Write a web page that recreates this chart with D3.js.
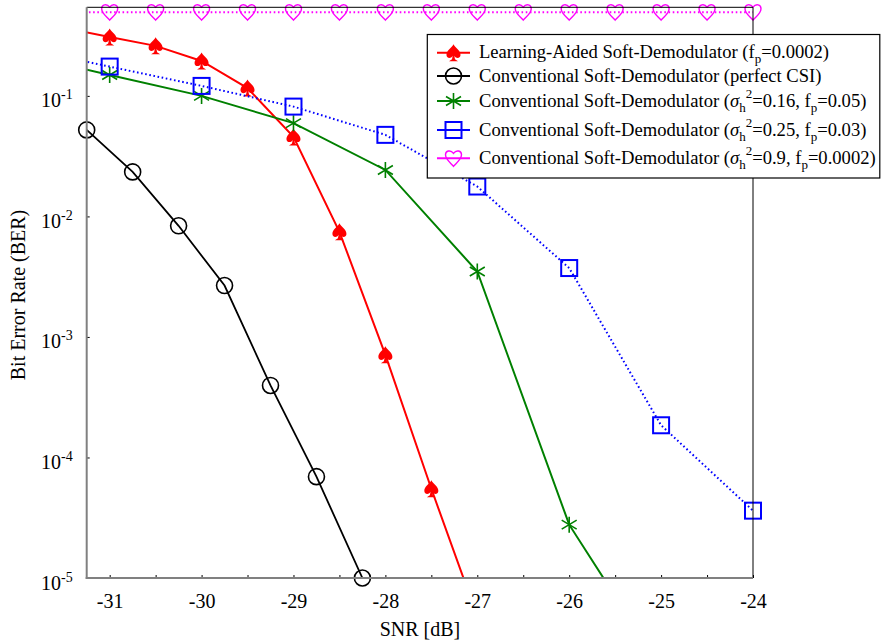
<!DOCTYPE html>
<html lang="en">
<head>
    <meta charset="UTF-8">
    <title>BER vs SNR</title>
    <script src="https://cdn.jsdelivr.net/npm/d3@7"></script>
    <style>
        body { margin: 0; background: #fff; }
        text { font-family: "Liberation Serif", "Times New Roman", serif; }
    </style>
</head>
<body>
<script>
    // values (SNR in dB, BER)
    const learnSnr = [-31.5, -31, -30.5, -30, -29.5, -29, -28.5, -28, -27.5, -27]
    const learnBer = [0.366, 0.308, 0.26, 0.195, 0.116, 0.0457, 0.00745, 7.1e-4, 5.5e-5, 4.8e-6]

    const perfectSnr = [-31.25, -30.75, -30.25, -29.75, -29.25, -28.75, -28.25]
    const perfectBer = [0.0522, 0.0234, 0.00836, 0.00267, 3.96e-4, 6.93e-5, 1.0e-5]

    const sig16Snr = [-32, -31, -30, -29, -28, -27, -26, -25]
    const sig16Ber = [0.223, 0.149, 0.1, 0.0594, 0.0243, 0.00349, 2.77e-5, 1.8e-6]

    const sig25Snr = [-32, -31, -30, -29, -28, -27, -26, -25, -24]
    const sig25Ber = [0.253, 0.175, 0.121, 0.0815, 0.0475, 0.0177, 0.00373, 1.85e-4, 3.62e-5]

    const sig9Snr = [-31.5, -31, -30.5, -30, -29.5, -29, -28.5, -28, -27.5, -27, -26.5, -26, -25.5, -25, -24.5, -24]
    const sig9Ber = [0.495, 0.495, 0.495, 0.495, 0.495, 0.495, 0.495, 0.495, 0.495, 0.495, 0.495, 0.495, 0.495, 0.495, 0.495, 0.495]

    const xTicks = [-31, -30.5, -30, -29.5, -29, -28.5, -28, -27.5, -27, -26.5, -26, -25.5, -25, -24.5, -24]
    const yTicks = [1e-1, 1e-2, 1e-3, 1e-4, 1e-5]
    const yTickExp = ['-1', '-2', '-3', '-4', '-5']

    const [width, height] = [886, 644]
    const [pLeft, pRight, pTop, pBottom] = [86.7, 753, 7.3, 578]

    const x = d3.scaleLinear().domain([-31.25, -24]).range([pLeft, pRight])
    const y = d3.scaleLog().domain([1e-5, Math.pow(10, -0.265)]).range([pBottom, pTop])

    const svg = d3.select('body').append('svg')
        .attr('width', width)
        .attr('height', height)

    svg.append('clipPath').attr('id', 'plot')
        .append('rect')
        .attr('x', pLeft).attr('y', pTop)
        .attr('width', pRight - pLeft).attr('height', pBottom - pTop)

    // marker shapes
    const spade = 'M0,-8.5 C-2,-4.5 -7.5,-2 -7,2.5 C-6.5,6 -2.5,6 -0.8,3 L-1.5,6.5 L-4.5,8.5 L4.5,8.5 L1.5,6.5 L0.8,3 C2.5,6 6.5,6 7,2.5 C7.5,-2 2,-4.5 0,-8.5 Z'
    const heart = 'M0,8 C-3,4.5 -8,1 -8,-3.5 C-8,-7.5 -3,-9 0,-5 C3,-9 8,-7.5 8,-3.5 C8,1 3,4.5 0,8 Z'
    const star = 'M0,-8 L0,8 M-7.5,-4.5 L7.5,4.5 M-7.5,4.5 L7.5,-4.5'

    const drawMarker = (g, type, color) => {
        if (type === 'spade') g.append('path').attr('d', spade).attr('fill', color)
        if (type === 'circle') g.append('circle').attr('r', 8).attr('fill', 'none')
            .attr('stroke', color).attr('stroke-width', 1.6)
        if (type === 'star') g.append('path').attr('d', star).attr('fill', 'none')
            .attr('stroke', color).attr('stroke-width', 1.6)
        if (type === 'square') g.append('rect').attr('x', -8).attr('y', -8)
            .attr('width', 16).attr('height', 16).attr('fill', 'none')
            .attr('stroke', color).attr('stroke-width', 2)
        if (type === 'heart') g.append('path').attr('d', heart).attr('fill', 'none')
            .attr('stroke', color).attr('stroke-width', 1.4)
    }

    const series = [
        {snr: learnSnr, ber: learnBer, color: '#ff0000', dash: null, marker: 'spade', width: 2},
        {snr: perfectSnr, ber: perfectBer, color: '#000000', dash: null, marker: 'circle', width: 1.8},
        {snr: sig16Snr, ber: sig16Ber, color: '#008000', dash: null, marker: 'star', width: 2},
        {snr: sig25Snr, ber: sig25Ber, color: '#0000ff', dash: '1.6,2.6', marker: 'square', width: 2},
        {snr: sig9Snr, ber: sig9Ber, color: '#ff00ff', dash: '1.6,2.6', marker: 'heart', width: 2},
    ]

    const line = d3.line()
        .x(d => x(d[0]))
        .y(d => y(d[1]))

    series.forEach(s => {
        const pts = s.snr.map((v, i) => [v, s.ber[i]])
        svg.append('path')
            .attr('clip-path', 'url(#plot)')
            .attr('d', line(pts))
            .attr('fill', 'none')
            .attr('stroke', s.color)
            .attr('stroke-width', s.width)
            .attr('stroke-dasharray', s.dash)
        pts.filter(d => d[0] >= -31.26 && d[0] <= -23.99 && d[1] >= 0.99e-5)
            .forEach(d => {
                const g = svg.append('g').attr('transform', `translate(${x(d[0])},${y(d[1])})`)
                drawMarker(g, s.marker, s.color)
            })
    })

    // axes
    const xAxis = svg.append('g')
        .attr('transform', `translate(0,${pBottom})`)
        .call(d3.axisBottom(x).tickValues(xTicks).tickSize(-3).tickPadding(16)
            .tickFormat(d => Number.isInteger(d) ? String(d) : ''))
    xAxis.select('.domain').remove()
    xAxis.selectAll('.tick line').attr('stroke', '#000')
    xAxis.selectAll('text').attr('font-size', 20).attr('fill', '#000')
        .style('font-family', '"Liberation Serif", serif')

    const yAxis = svg.append('g')
        .attr('transform', `translate(${pLeft},0)`)
        .call(d3.axisLeft(y).tickValues(yTicks).tickSize(-3).tickPadding(14).tickFormat(() => ''))
    yAxis.select('.domain').remove()
    yAxis.selectAll('.tick line').attr('stroke', '#000')
    yAxis.selectAll('.tick text').each(function (d, i) {
        const t = d3.select(this)
            .attr('dy', '0.55em')
            .attr('font-size', 20).attr('fill', '#000')
            .style('font-family', '"Liberation Serif", serif')
        t.append('tspan').text('10')
        t.append('tspan').attr('dy', -8).attr('font-size', 14).text(yTickExp[i])
    })

    // frame
    svg.append('line').attr('x1', pLeft).attr('x2', pRight).attr('y1', pTop).attr('y2', pTop)
        .attr('stroke', '#000').attr('stroke-width', 1)
    svg.append('line').attr('x1', pRight).attr('x2', pRight).attr('y1', pTop).attr('y2', pBottom)
        .attr('stroke', '#000').attr('stroke-width', 1)
    svg.append('line').attr('x1', pLeft).attr('x2', pLeft).attr('y1', pTop).attr('y2', pBottom + 1)
        .attr('stroke', '#808080').attr('stroke-width', 2)
    svg.append('line').attr('x1', pLeft - 1).attr('x2', pRight).attr('y1', pBottom).attr('y2', pBottom)
        .attr('stroke', '#808080').attr('stroke-width', 2)

    // axis titles
    svg.append('text')
        .attr('x', 420).attr('y', 636)
        .attr('text-anchor', 'middle')
        .attr('font-size', 20)
        .text('SNR [dB]')
    svg.append('text')
        .attr('transform', 'translate(25,295) rotate(-90)')
        .attr('text-anchor', 'middle')
        .attr('font-size', 20)
        .text('Bit Error Rate (BER)')

    // legend
    const legendText = [
        [{t: 'Learning-Aided Soft-Demodulator (f'}, {t: 'p', sub: 1}, {t: '=0.0002)'}],
        [{t: 'Conventional Soft-Demodulator (perfect CSI)'}],
        [{t: 'Conventional Soft-Demodulator ('}, {t: 'σ', it: 1}, {t: 'h', sub: 1}, {t: '2', sup: 1},
            {t: '=0.16, f'}, {t: 'p', sub: 1}, {t: '=0.05)'}],
        [{t: 'Conventional Soft-Demodulator ('}, {t: 'σ', it: 1}, {t: 'h', sub: 1}, {t: '2', sup: 1},
            {t: '=0.25, f'}, {t: 'p', sub: 1}, {t: '=0.03)'}],
        [{t: 'Conventional Soft-Demodulator ('}, {t: 'σ', it: 1}, {t: 'h', sub: 1}, {t: '2', sup: 1},
            {t: '=0.9, f'}, {t: 'p', sub: 1}, {t: '=0.0002)'}],
    ]
    const rowY = [52.7, 76, 101, 130, 158.3]

    const legend = svg.append('g')
    legend.append('rect')
        .attr('x', 427.3).attr('y', 34.5)
        .attr('width', 452.5).attr('height', 143.5)
        .attr('fill', '#fff')
        .attr('stroke', '#000').attr('stroke-width', 1.2)

    series.forEach((s, i) => {
        const ly = rowY[i]
        legend.append('line')
            .attr('x1', 437).attr('x2', 470).attr('y1', ly).attr('y2', ly)
            .attr('stroke', s.color).attr('stroke-width', s.width)
        drawMarker(legend.append('g').attr('transform', `translate(453.5,${ly})`), s.marker, s.color)

        const txt = legend.append('text')
            .attr('x', 479).attr('y', ly + 5.7)
            .attr('font-size', 18.6)
        let shift = 0
        legendText[i].forEach(p => {
            let target = 0
            if (p.sub) target = 5
            if (p.sup) target = -9
            const sp = txt.append('tspan').attr('dy', target - shift).text(p.t)
            shift = target
            if (p.sub || p.sup) sp.attr('font-size', 13)
            if (p.it) sp.attr('font-style', 'italic')
        })
    })
</script>
</body>
</html>
